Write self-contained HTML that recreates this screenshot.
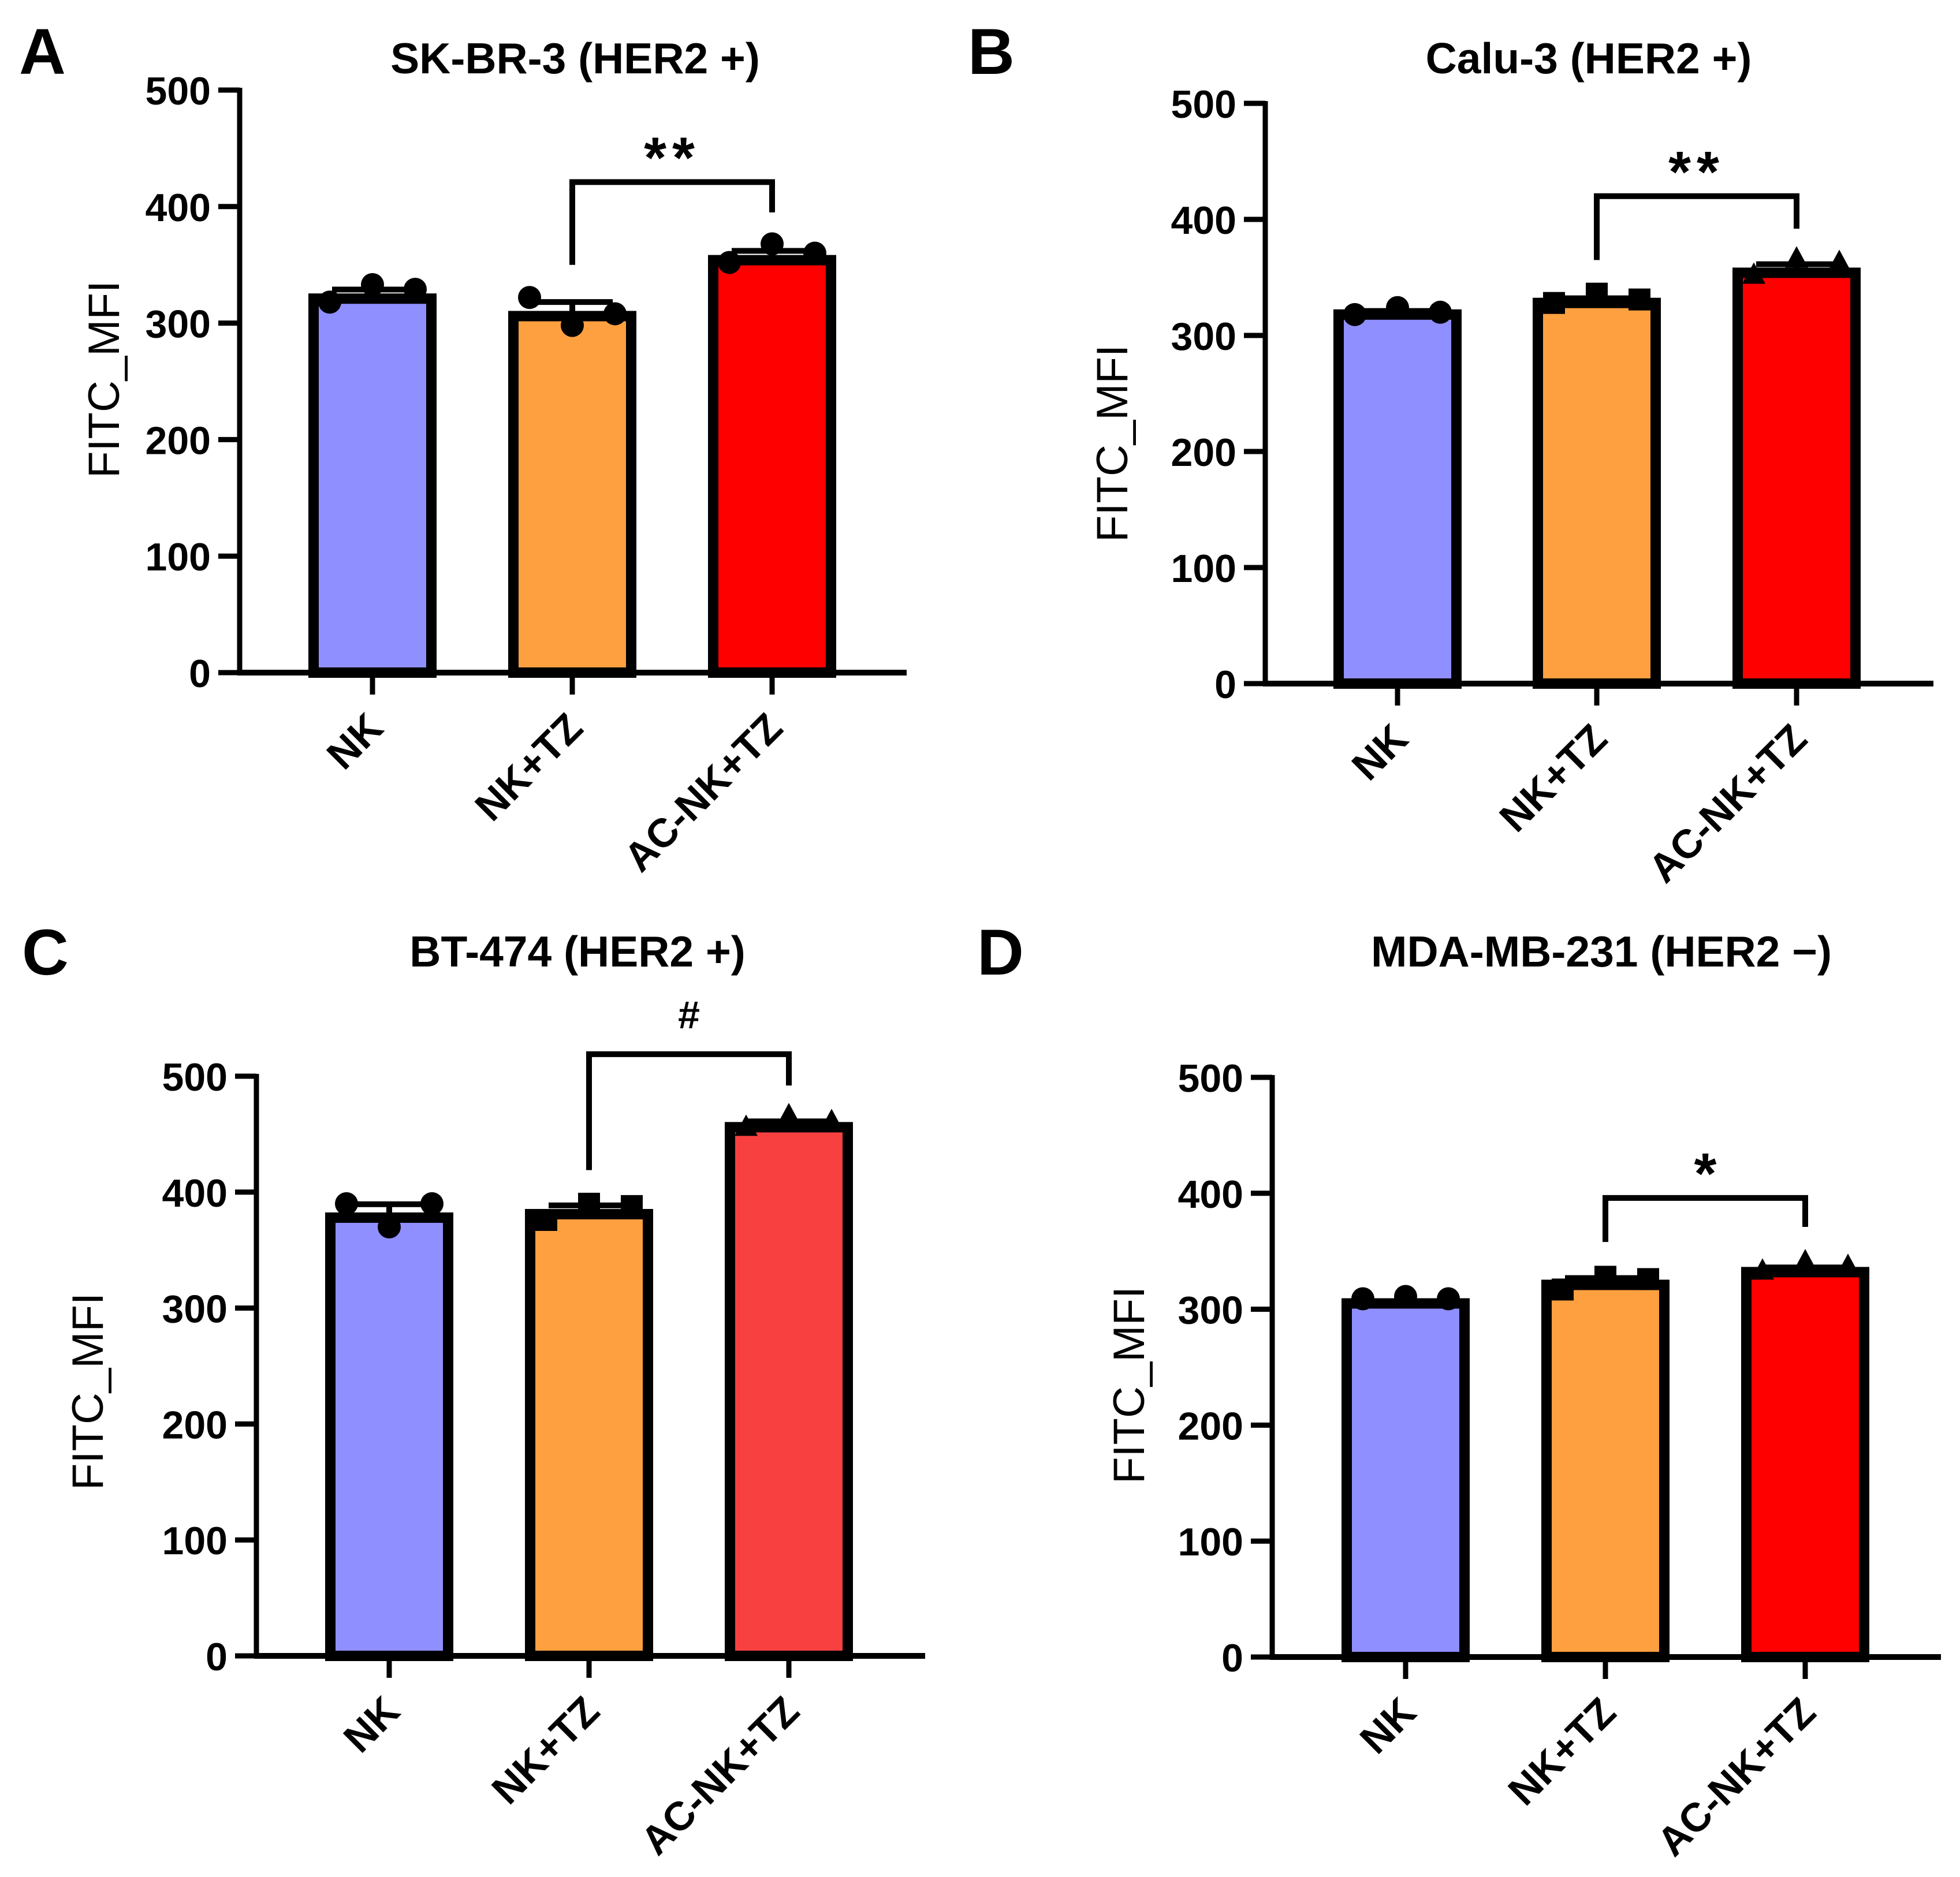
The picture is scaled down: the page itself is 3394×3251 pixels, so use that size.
<!DOCTYPE html>
<html><head><meta charset="utf-8"><style>
html,body{margin:0;padding:0;background:#fff;}
svg{display:block;}
text{font-family:"Liberation Sans",Arial,sans-serif;}
</style></head><body>
<svg id="fig" width="3394" height="3251" viewBox="0 0 3394 3251" xmlns="http://www.w3.org/2000/svg"></svg>
<script>
// ---------- data ----------
const categories = ["NK", "NK+TZ", "AC-NK+TZ"];
const yTicks = [0, 100, 200, 300, 400, 500];
const yTickLabels = ["0", "100", "200", "300", "400", "500"];

const titlesAll = ["SK-BR-3 (HER2 +)", "Calu-3 (HER2 +)", "BT-474 (HER2 +)", "MDA-MB-231 (HER2 \u2212)"];
const panelLetters = ["A", "B", "C", "D"];

const barsA = [321, 306, 354];
const barsB = [318, 328, 354];
const barsC = [378, 381, 456];
const barsD = [305, 321, 332];

const pointsA = [[318, 333, 329], [322, 298, 308], [352, 368, 360]];
const pointsB = [[318, 324, 320], [328, 336, 331], [351, 365, 362]];
const pointsC = [[390, 370, 390], [376, 390, 388], [455, 465, 460]];
const pointsD = [[309, 311, 309], [317, 328, 326], [332, 340, 336]];

const sigLabels = ["**", "**", "#", "*"];
const sigBarValue = [421, 420, 519, 396];
const sigLegLeft = [350, 365, 419, 358];
const sigLegRight = [395, 392, 492, 371];

// ---------- layout (positions only) ----------
const layouts = [
  {ax:415, y0:1165, y500:156, xEnd:1570, cx:[645,991,1337], titleX:996, titleY:127, letterX:33, letterY:128, ytX:180, ytY:657, colors:["#8f8fff","#ffa040","#ff0000"], markers:["circle","circle","circle"]},
  {ax:2191, y0:1184, y500:179, xEnd:3348, cx:[2420,2765,3111], titleX:2751, titleY:127, letterX:1676, letterY:128, ytX:1926, ytY:768, colors:["#8f8fff","#ffa040","#ff0000"], markers:["circle","square","triangle"]},
  {ax:444, y0:2868, y500:1864, xEnd:1602, cx:[674,1020,1366], titleX:1000, titleY:1674, letterX:38, letterY:1688, ytX:152, ytY:2410, colors:["#8f8fff","#ffa040","#f94040"], markers:["circle","square","triangle"]},
  {ax:2203, y0:2870, y500:1866, xEnd:3361, cx:[2434,2780,3126], titleX:2773, titleY:1674, letterX:1692, letterY:1688, ytX:1955, ytY:2399, colors:["#8f8fff","#ffa040","#ff0000"], markers:["circle","square","triangle"]}
];
const barsAll = [barsA, barsB, barsC, barsD];
const pointsAll = [pointsA, pointsB, pointsC, pointsD];

const NS = "http://www.w3.org/2000/svg";
const svg = document.getElementById("fig");
function mk(tag, attrs, parent){
  const e = document.createElementNS(NS, tag);
  for (const k in attrs) e.setAttribute(k, attrs[k]);
  (parent||svg).appendChild(e);
  return e;
}
function sd(a){const m=a.reduce((s,v)=>s+v,0)/a.length;return Math.sqrt(a.reduce((s,v)=>s+(v-m)*(v-m),0)/(a.length-1));}

layouts.forEach((L, p) => {
  const g = mk("g", {});
  
  
  const yScale = v => L.y0 - (v / 500) * (L.y0 - L.y500);
  const barW = 222;

  const letter = mk("text", {x:L.letterX, y:L.letterY, "font-size":112, "font-weight":"bold"}, g);
  letter.textContent = panelLetters[p];
  
  

  const title = mk("text", {x:L.titleX, y:L.titleY, "font-size":75, "font-weight":"bold", "text-anchor":"middle"}, g);
  title.textContent = titlesAll[p];
  
  

  const yt = mk("text", {x:0, y:0, "font-size":76, "text-anchor":"middle", transform:`translate(${L.ytX + 26},${L.ytY}) rotate(-90)`}, g);
  yt.textContent = "FITC_MFI";
  
  

  // bars
  barsAll[p].forEach((v, i) => {
    const top = yScale(v), bot = yScale(0);
    const r = mk("rect", {x:L.cx[i]-barW/2+9, y:top, width:barW-18, height:bot-top, fill:L.colors[i], stroke:"#000", "stroke-width":18}, g);
    
    
  });

  // error bars and points
  pointsAll[p].forEach((pts, i) => {
    const m = barsAll[p][i];
    const s = sd(pts);
    const eb = mk("g", {}, g);
    
    
    mk("line", {x1:L.cx[i], x2:L.cx[i], y1:yScale(m), y2:yScale(m+s), stroke:"#000", "stroke-width":10}, eb);
    mk("line", {x1:L.cx[i]-70, x2:L.cx[i]+70, y1:yScale(m+s), y2:yScale(m+s), stroke:"#000", "stroke-width":10}, eb);
    pts.forEach((v, j) => {
      const px = L.cx[i] + (j-1)*74, py = yScale(v);
      let el;
      const mt = L.markers[i];
      if (mt === "circle") el = mk("circle", {cx:px, cy:py, r:20, fill:"#000"}, g);
      else if (mt === "square") el = mk("rect", {x:px-19, y:py-19, width:38, height:38, fill:"#000"}, g);
      else el = mk("polygon", {points:`${px},${py-24} ${px+20},${py+13} ${px-20},${py+13}`, fill:"#000"}, g);
      
      
    });
  });

  // axes
  const ya = mk("line", {x1:L.ax, x2:L.ax, y1:L.y500-4, y2:L.y0+4, stroke:"#000", "stroke-width":9}, g);
  
  
  const xa = mk("line", {x1:L.ax-4, x2:L.xEnd, y1:L.y0, y2:L.y0, stroke:"#000", "stroke-width":10}, g);
  
  

  yTicks.forEach((t, k) => {
    const y = yScale(t);
    mk("line", {x1:L.ax-37, x2:L.ax, y1:y, y2:y, stroke:"#000", "stroke-width":9}, g);
    const tl = mk("text", {x:L.ax-50, y:y+25, "font-size":68, "font-weight":"bold", "text-anchor":"end"}, g);
    tl.textContent = yTickLabels[k];
    
    
  });

  categories.forEach((c, i) => {
    mk("line", {x1:L.cx[i], x2:L.cx[i], y1:L.y0, y2:L.y0+38, stroke:"#000", "stroke-width":9}, g);
    const ax = L.cx[i] + 22, ay = L.y0 + 100;
    const xl = mk("text", {x:0, y:0, "font-size":70, "font-weight":"bold", "text-anchor":"end", transform:`translate(${ax},${ay}) rotate(-45)`}, g);
    xl.textContent = c;
    
    
  });

  // significance bracket
  const x1 = L.cx[1], x2 = L.cx[2], yb = yScale(sigBarValue[p]);
  const br = mk("path", {d:`M${x1},${yScale(sigLegLeft[p])} L${x1},${yb} L${x2},${yb} L${x2},${yScale(sigLegRight[p])}`, fill:"none", stroke:"#000", "stroke-width":10}, g);
  
  
  const isHash = sigLabels[p] === "#";
  const st = mk("text", {x:(x1+x2)/2, y: isHash ? yb - 45 : yb - 8, "font-size": isHash ? 68 : 100, "font-weight":"bold", "text-anchor":"middle", "letter-spacing": sigLabels[p].length > 1 ? 10 : 0}, g);
  st.textContent = sigLabels[p];
  
  
});
</script>
</body></html>
